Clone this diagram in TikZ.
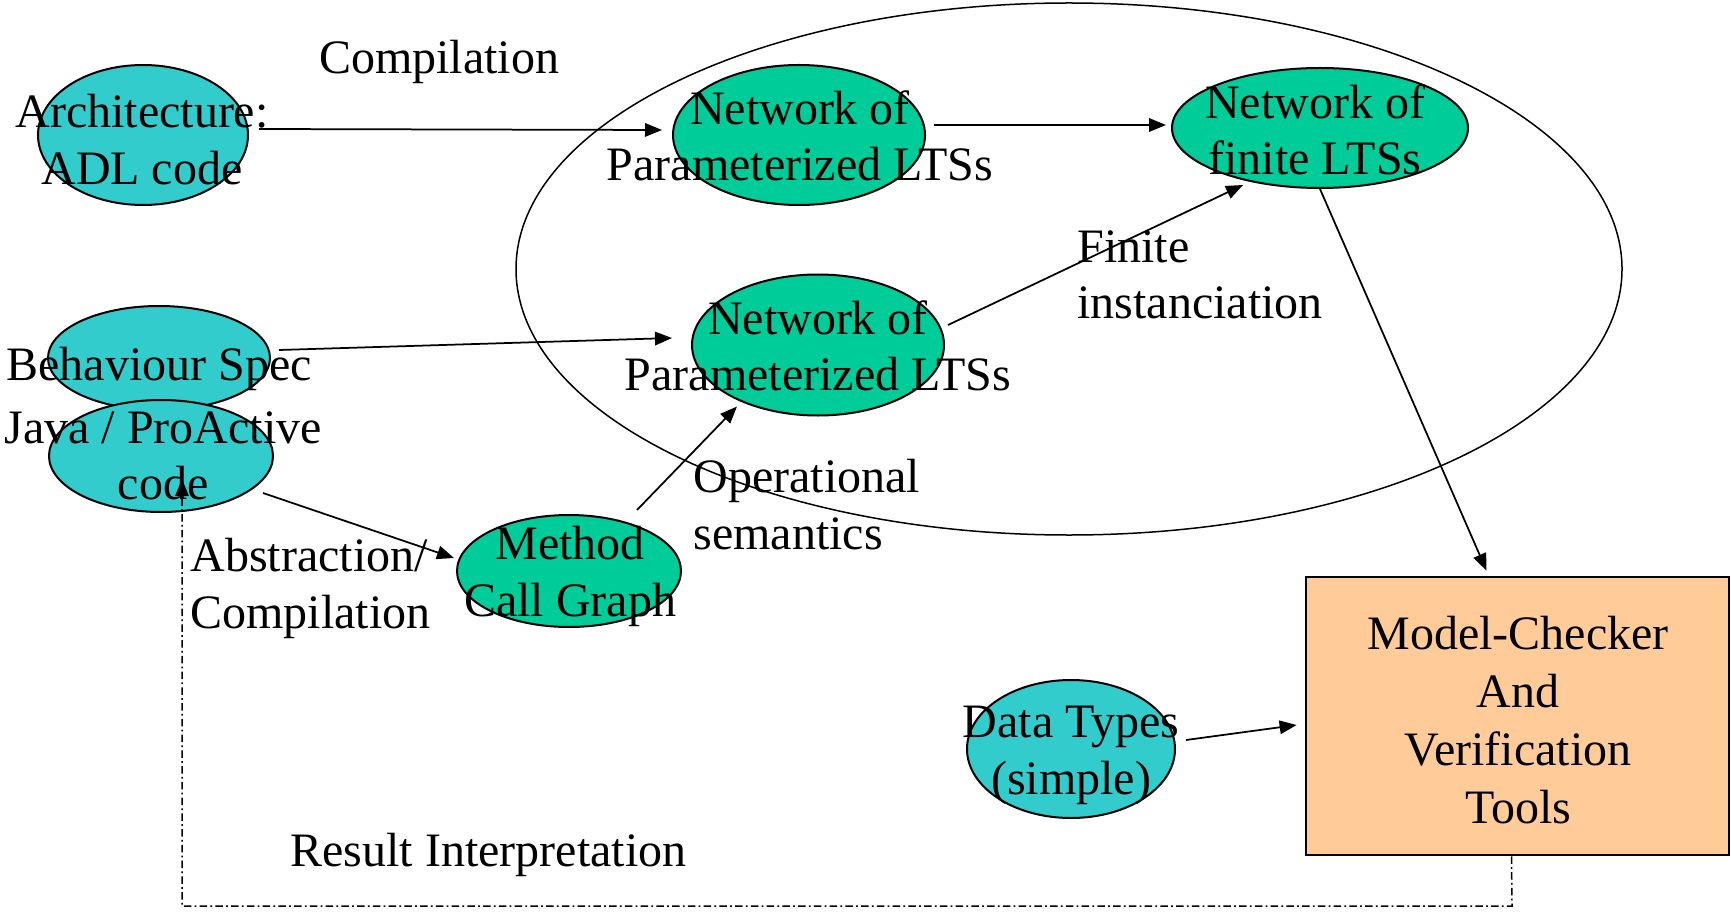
\documentclass[tikz,border=0pt]{standalone}
\usepackage{fontspec}
\setmainfont{Liberation Serif}
\usetikzlibrary{shapes.geometric,arrows.meta}
\definecolor{tealfill}{HTML}{33CCCC}
\definecolor{greenfill}{HTML}{00CC99}
\definecolor{peachfill}{HTML}{FFCC99}
\newcommand\lblfont{\fontsize{19.2pt}{22.6pt}\selectfont}
\tikzset{
  blob/.style={ellipse, draw, line width=0.8pt, inner sep=0pt},
  tealblob/.style={blob, fill=tealfill},
  greenblob/.style={blob, fill=greenfill},
  sz/.style 2 args={minimum width=#1*0.4pt, minimum height=#2*0.4pt},
  txt/.style={inner sep=0pt, align=center, anchor=north, font=\lblfont},
  ltxt/.style={inner sep=0pt, align=left, anchor=north west, font=\lblfont},
  arr/.style={-{Triangle[length=6.8pt,width=5.4pt]}, line width=0.7pt},
  dashdot/.style={line width=0.6pt, dash pattern=on 3pt off 1.3pt on 0.7pt off 1.3pt}
}
\begin{document}
\begin{tikzpicture}[x=0.4pt,y=-0.4pt]
\useasboundingbox (0,0) rectangle (1731,912);

% the surrounding semantic domain
\node[ellipse, draw, line width=0.6pt, inner sep=0pt, sz={1106}{532}] (dom) at (1069,269) {};

% source-level inputs
\node[tealblob, sz={210}{140}] (arch) at (143,135) {};
\node[tealblob, sz={222}{104}] (beh) at (159,358) {};
\node[tealblob, sz={224}{112}] (java) at (161,456) {};
\node[tealblob, sz={208}{138}] (data) at (1071,749) {};

% intermediate models
\node[greenblob, sz={252}{140}] (net1) at (799,135) {};
\node[greenblob, sz={296}{120}] (netF) at (1320,128) {};
\node[greenblob, sz={252}{141}] (net2) at (818,345) {};
\node[greenblob, sz={224}{112}] (meth) at (569,571) {};

% verification back end
\node[draw, line width=1.1pt, fill=peachfill, sz={423}{278}] (tools) at (1517.5,716) {};

% connectors
\draw[arr] ([shift={(10,-6)}]arch.east) -- ([shift={(-10,-5)}]net1.west);
\draw[arr] ([shift={(8,-10)}]net1.east) -- ([shift={(-5,-3)}]netF.west);
\draw[arr] ([shift={(8,-8)}]beh.east) -- ([shift={(-19,-7)}]net2.west);
\draw[arr] ([shift={(3,-20)}]net2.east) -- ([shift={(-77,-4)}]netF.south);
\draw[arr] ([shift={(-11,37)}]java.east) -- ([shift={(-2,-13)}]meth.west);
\draw[arr] ([shift={(68,-4)}]meth.north) -- ([shift={(-81,-10)}]net2.south);
\draw[arr] (netF.south) -- ([shift={(-31,-5)}]tools.north);
\draw[arr] ([shift={(10,-9)}]data.east) -- ([shift={(-8,9)}]tools.west);

% texts
\node[txt] (archT) at (142,94) {Architecture:\\ADL code};
\node[txt] (behT) at (159,347) {Behaviour Spec};
\node[txt] (javaT) at (163,411) {Java / ProActive\\code};
\node[txt] (dataT) at (1071,706) {Data Types\\(simple)};
\node[txt] (net1T) at (800,90) {Network of\\Parameterized LTSs};
\node[txt] (netFT) at (1315,84) {Network of\\finite LTSs};
\node[txt] (net2T) at (818,300) {Network of\\Parameterized LTSs};
\node[txt] (methT) at (570,526) {Method\\Call Graph};
\node[txt, font=\fontsize{19.2pt}{23.2pt}\selectfont] (toolsT) at (1518,616) {Model-Checker\\And\\Verification\\Tools};

% edge labels
\node[txt] (compT) at (439,40) {Compilation};
\node[ltxt] (finT) at (1077,230) {Finite\\instanciation};
\node[ltxt] (opT) at (693,459) {Operational\\semantics};
\node[ltxt] (absT) at (190,538) {Abstraction/\\Compilation};
\node[ltxt] (resT) at (290,833) {Result Interpretation};

% feedback of the verification results, drawn over the source text
\coordinate (rb) at (1512,906);
\coordinate (lb) at (182,906);
\draw[arr, dashdot] ([shift={(-6,0)}]tools.south) -- (rb) -- (lb) -- ([shift={(21,-34)}]java.south);
\end{tikzpicture}
\end{document}
